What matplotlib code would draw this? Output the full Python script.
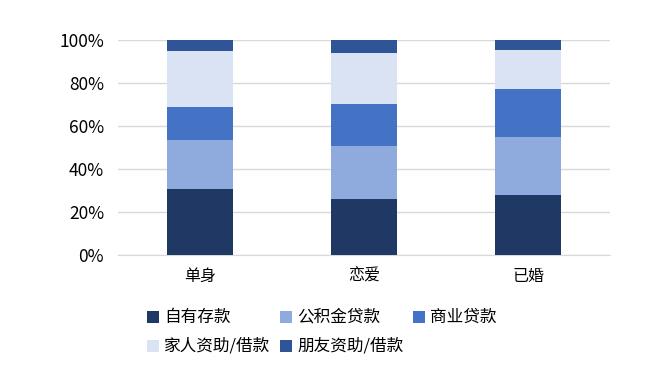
import matplotlib
matplotlib.use("Agg")
import matplotlib.pyplot as plt
from matplotlib.patches import Rectangle
from matplotlib.ticker import PercentFormatter

plt.rcParams['font.family'] = ['Noto Sans CJK SC', 'DejaVu Sans']

categories = ['单身', '恋爱', '已婚']
series_names = ['自有存款', '公积金贷款', '商业贷款', '家人资助/借款', '朋友资助/借款']
own = [30.7, 26.0, 28.1]
hpf = [22.8, 24.7, 26.8]
commercial = [15.3, 19.5, 22.3]
family = [26.1, 23.7, 18.1]
friends = [5.1, 6.1, 4.7]
colors = ['#203864', '#8FAADC', '#4472C4', '#DAE3F3', '#2F5597']
yticks = [0, 20, 40, 60, 80, 100]

W, H = 655, 386
fig = plt.figure(figsize=(W / 100, H / 100), dpi=100)
ax = fig.add_axes([118 / W, 1 - 255 / H, 492 / W, 215 / H])

series = [own, hpf, commercial, family, friends]
x = list(range(len(categories)))
bottom = [0.0] * len(categories)
for vals, c in zip(series, colors):
    ax.bar(x, vals, width=0.4, bottom=bottom, color=c, zorder=3)
    bottom = [b + v for b, v in zip(bottom, vals)]

ax.set_xlim(-0.5, 2.5)
ax.set_ylim(0, 100)
ax.set_yticks(yticks)
ax.yaxis.set_major_formatter(PercentFormatter(decimals=0))
ax.set_xticks(x)
ax.set_xticklabels(categories)
ax.grid(axis='y', color='#D9D9D9', linewidth=1, zorder=0)
for s in ['top', 'right', 'left']:
    ax.spines[s].set_visible(False)
ax.spines['bottom'].set_color('#D9D9D9')
ax.tick_params(axis='y', length=0, labelsize=12.5, colors='#000000', pad=10)
ax.tick_params(axis='x', length=0, labelsize=11.5, colors='#000000', pad=9)

# legend laid out like the original (fixed-width columns, row-major)
for i, (name, c) in enumerate(zip(series_names, colors)):
    r, col = divmod(i, 3)
    sx = 147 + 133 * col
    cy = 317 + 29 * r
    fig.add_artist(Rectangle((sx / W, 1 - (cy + 6) / H), 12 / W, 12 / H,
                             transform=fig.transFigure, facecolor=c,
                             edgecolor='none'))
    fig.text((sx + 17) / W, 1 - cy / H, name, fontsize=12, va='center',
             ha='left', color='#000000')

fig.savefig('out.png', dpi=100)
